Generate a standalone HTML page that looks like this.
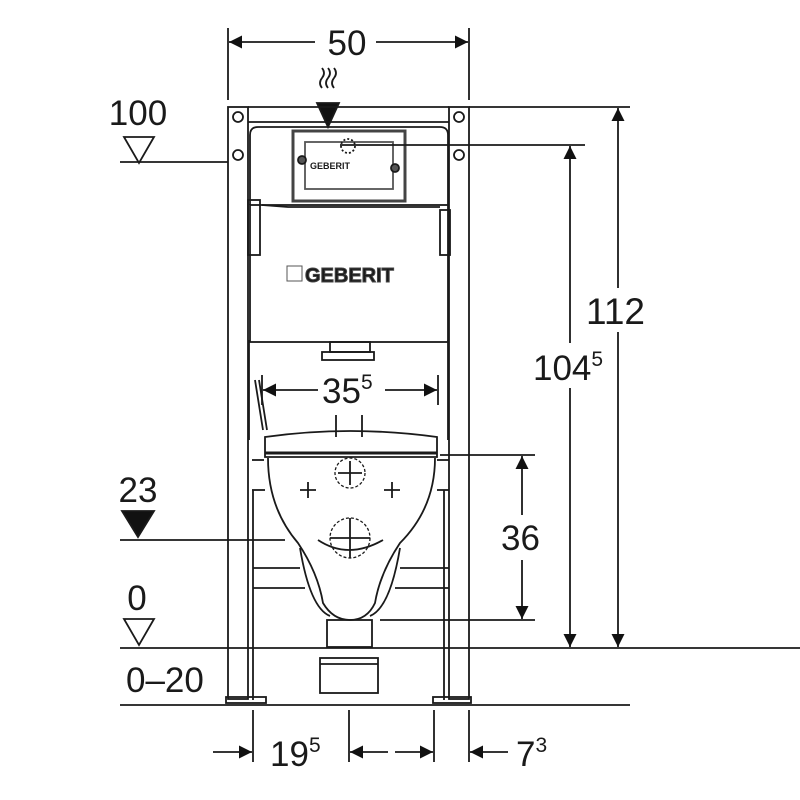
<!DOCTYPE html>
<html><head><style>body{margin:0;background:#fff}svg{display:block}text{font-family:"Liberation Sans",sans-serif;fill:#1a1a1a}</style></head><body>
<svg width="800" height="800" viewBox="0 0 800 800" xmlns="http://www.w3.org/2000/svg">
<defs>
<marker id="a" viewBox="0 0 10 10" refX="10" refY="5" markerWidth="17" markerHeight="13" markerUnits="userSpaceOnUse" orient="auto"><path d="M0,0L10,5L0,10z" fill="#111"/></marker>
</defs>
<g stroke="#1a1a1a" fill="none" stroke-width="1.8">
<line x1="228" y1="28" x2="228" y2="100"/><line x1="469" y1="28" x2="469" y2="100"/>
<line x1="315" y1="42" x2="229" y2="42" marker-end="url(#a)"/><line x1="376" y1="42" x2="468" y2="42" marker-end="url(#a)"/>
<path d="M322,88q-4,-5 0,-10q4,-5 0,-10M328,88q-4,-5 0,-10q4,-5 0,-10M334,88q-4,-5 0,-10q4,-5 0,-10"/>
<path d="M317,103L339,103L328,127z" fill="#111"/>
<rect x="228" y="107" width="20" height="592"/><rect x="449" y="107" width="20" height="592"/>
<line x1="248" y1="107" x2="449" y2="107"/><line x1="248" y1="122" x2="449" y2="122"/>
<line x1="253" y1="490" x2="253" y2="700"/><line x1="444" y1="490" x2="444" y2="700"/>
<rect x="226" y="697" width="40" height="6"/><rect x="433" y="697" width="38" height="6"/>
<circle cx="238" cy="117" r="5"/><circle cx="459" cy="117" r="5"/>
<circle cx="238" cy="155" r="5"/><circle cx="459" cy="155" r="5"/>
<path d="M250,205V135q0,-8 8,-8H440q8,0 8,8V205"/>
<path d="M262,205L275,206L288,207H440"/>
<rect x="250" y="205" width="198" height="137"/>
<rect x="248" y="200" width="12" height="55" /><rect x="440" y="210" width="10" height="45"/>
<rect x="293" y="131" width="112" height="70" stroke-width="3" stroke="#444"/>
<rect x="305" y="142" width="88" height="47" stroke="#555"/>
<circle cx="348" cy="146" r="7" stroke-dasharray="2,2"/>
<circle cx="302" cy="160" r="4" fill="#555"/><circle cx="395" cy="168" r="4" fill="#555"/>
<rect x="322" y="352" width="52" height="8"/><rect x="330" y="342" width="40" height="10"/>
<path d="M265,437q85,-12 172,0v20H265z"/><line x1="265" y1="453" x2="437" y2="453" stroke-width="3"/>
<path d="M268,458q0,50 30,85q20,30 25,60q10,17 27,17q17,0 25,-17q5,-30 25,-60q35,-35 35,-85"/>
<path d="M300,548q10,60 30,68M400,548q-10,60 -30,68"/>
<path d="M318,540q30,20 65,0"/>
<circle cx="350" cy="473" r="15" stroke-dasharray="3,2" stroke-width="1.3"/><circle cx="350" cy="538" r="20" stroke-dasharray="3,2" stroke-width="1.3"/>
<path d="M338,473h24M350,461v24M330,538h40M350,518v40M300,490h16M308,482v16M384,490h16M392,482v16"/>
<path d="M336,415v22M362,415v22"/>
<rect x="327" y="620" width="45" height="27"/>
<rect x="320" y="658" width="58" height="35"/><line x1="320" y1="664" x2="378" y2="664"/>
<line x1="252" y1="460" x2="264" y2="460"/><line x1="437" y1="460" x2="449" y2="460"/>
<line x1="252" y1="490" x2="265" y2="490"/><line x1="437" y1="490" x2="449" y2="490"/>
<line x1="253" y1="568" x2="300" y2="568"/><line x1="400" y1="568" x2="449" y2="568"/>
<line x1="253" y1="588" x2="305" y2="588"/><line x1="395" y1="588" x2="449" y2="588"/>
<line x1="249" y1="340" x2="249" y2="440"/><line x1="448" y1="340" x2="448" y2="440"/>
<path d="M255,380l8,50M259,380l8,50"/>
<line x1="262" y1="375" x2="262" y2="405"/><line x1="438" y1="375" x2="438" y2="405"/>
<line x1="318" y1="390" x2="263" y2="390" marker-end="url(#a)"/><line x1="385" y1="390" x2="437" y2="390" marker-end="url(#a)"/>
<line x1="469" y1="107" x2="630" y2="107"/><line x1="340" y1="145" x2="585" y2="145"/>
<line x1="618" y1="288" x2="618" y2="108" marker-end="url(#a)"/><line x1="618" y1="332" x2="618" y2="647" marker-end="url(#a)"/>
<line x1="570" y1="343" x2="570" y2="146" marker-end="url(#a)"/><line x1="570" y1="388" x2="570" y2="647" marker-end="url(#a)"/>
<line x1="440" y1="455" x2="535" y2="455"/><line x1="380" y1="620" x2="535" y2="620"/>
<line x1="522" y1="515" x2="522" y2="456" marker-end="url(#a)"/><line x1="522" y1="560" x2="522" y2="619" marker-end="url(#a)"/>
<line x1="120" y1="162" x2="228" y2="162"/>
<path d="M124,137h30l-15,26z"/>
<line x1="120" y1="540" x2="285" y2="540"/>
<path d="M122,511h32l-16,26z" fill="#111"/>
<line x1="120" y1="648" x2="800" y2="648"/>
<path d="M124,619h30l-15,26z"/>
<line x1="120" y1="705" x2="630" y2="705"/>
<line x1="253" y1="710" x2="253" y2="762"/><line x1="349" y1="710" x2="349" y2="762"/><line x1="434" y1="710" x2="434" y2="762"/><line x1="469" y1="710" x2="469" y2="762"/>
<line x1="213" y1="752" x2="252" y2="752" marker-end="url(#a)"/>
<line x1="388" y1="752" x2="350" y2="752" marker-end="url(#a)"/><line x1="395" y1="752" x2="433" y2="752" marker-end="url(#a)"/>
<line x1="508" y1="752" x2="470" y2="752" marker-end="url(#a)"/>
</g>
<text x="347" y="55" font-size="35" text-anchor="middle">50</text>
<text x="138" y="125" font-size="35" text-anchor="middle">100</text>
<text x="138" y="502" font-size="35" text-anchor="middle">23</text>
<text x="137" y="610" font-size="35" text-anchor="middle">0</text>
<text x="126" y="692" font-size="35">0–20</text>
<text x="322" y="403" font-size="35">35<tspan font-size="21" dy="-14">5</tspan></text>
<text x="586" y="324" font-size="37">112</text>
<text x="533" y="380" font-size="35">104<tspan font-size="21" dy="-14">5</tspan></text>
<text x="501" y="550" font-size="35">36</text>
<text x="270" y="766" font-size="35">19<tspan font-size="21" dy="-14">5</tspan></text>
<text x="516" y="766" font-size="35">7<tspan font-size="21" dy="-14">3</tspan></text>
<text x="310" y="169" font-size="9" font-weight="bold" fill="#555">GEBERIT</text>
<rect x="287" y="266" width="15" height="15" fill="none" stroke="#555"/>
<text x="305" y="282" font-size="20" font-weight="bold" fill="#fff" stroke="#444" stroke-width="1">GEBERIT</text>
</svg>
</body></html>
